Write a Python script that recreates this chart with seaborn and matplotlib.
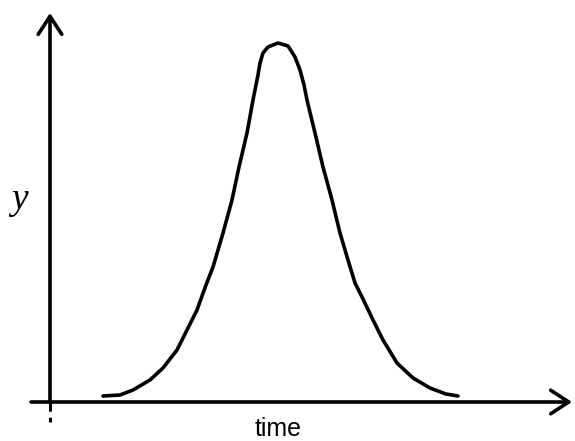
"""
Sketch of a single bell-shaped pulse over time (hand-drawn style axes).
"""

import numpy as np
import pandas as pd
import matplotlib
matplotlib.use("Agg")
import matplotlib.pyplot as plt
import seaborn as sns

sns.set_theme(style="white")
plt.rcParams['font.family'] = ['Liberation Sans', 'DejaVu Sans']
plt.rcParams['text.color'] = 'black'

# Curve (arbitrary units)
time_vals = [5.3, 7.0, 8.3, 10.0, 11.3, 12.7, 13.7, 14.7, 15.6, 16.3,
             17.3, 18.2, 18.9, 19.7, 20.3, 20.6, 20.8, 21.0, 21.3, 21.8,
             22.8, 23.8, 24.5, 25.0, 25.4, 25.7, 26.5, 27.3, 28.2, 29.0,
             29.8, 30.5, 31.3, 32.3, 33.3, 34.7, 36.3, 38.0, 39.6, 40.8]
y_vals = [0.6, 0.7, 1.2, 2.2, 3.4, 5.2, 7.2, 9.2, 11.7, 13.5,
          16.9, 20.2, 23.5, 26.9, 30.2, 31.7, 32.7, 33.9, 34.9, 35.5,
          35.9, 35.6, 34.5, 33.2, 31.7, 30.2, 26.9, 23.5, 20.2, 16.9,
          14.2, 11.9, 10.3, 8.2, 6.2, 3.9, 2.4, 1.4, 0.8, 0.6]

x_label = "time"
y_label = "y"

df = pd.DataFrame({"time": time_vals, "y": y_vals})

fig = plt.figure(figsize=(5.75, 4.41), dpi=100)
ax = fig.add_axes([50 / 575, 39 / 441, 522 / 575, 389 / 441])
ax.set_xlim(0, 52.2)
ax.set_ylim(0, 38.9)

sns.lineplot(data=df, x="time", y="y", sort=False, color="black",
             linewidth=2.6, solid_joinstyle="round", solid_capstyle="round",
             ax=ax)

# axes drawn as arrows, no spines/ticks
for s in ax.spines.values():
    s.set_visible(False)
ax.set_xticks([])
ax.set_yticks([])
ax.set_xlabel("")
ax.set_ylabel("")

arrow = dict(arrowstyle="->,head_length=1.3,head_width=0.85", color="black",
             lw=2.6, mutation_scale=10, shrinkA=0, shrinkB=0)
ax.annotate("", xy=(1.0, 0), xytext=(-19 / 522, 0), xycoords="axes fraction",
            textcoords="axes fraction", arrowprops=arrow, annotation_clip=False)
ax.annotate("", xy=(0, 1.0), xytext=(0, 0), xycoords="axes fraction",
            textcoords="axes fraction", arrowprops=arrow, annotation_clip=False)
# small dashed stub below the origin
ax.plot([0, 0], [0, -20 / 389], transform=ax.transAxes, color="black",
        lw=2.2, linestyle=(0, (3, 2)), clip_on=False, solid_capstyle="butt")

fig.text(278 / 575, 5 / 441, x_label, ha="center", va="baseline",
         fontsize=18, color="black")
fig.text(19 / 575, (441 - 200) / 441, y_label, ha="center", va="center",
         fontsize=27, style="italic", color="black",
         family=["Liberation Serif", "DejaVu Serif"])

fig.savefig("out.png", dpi=100)
